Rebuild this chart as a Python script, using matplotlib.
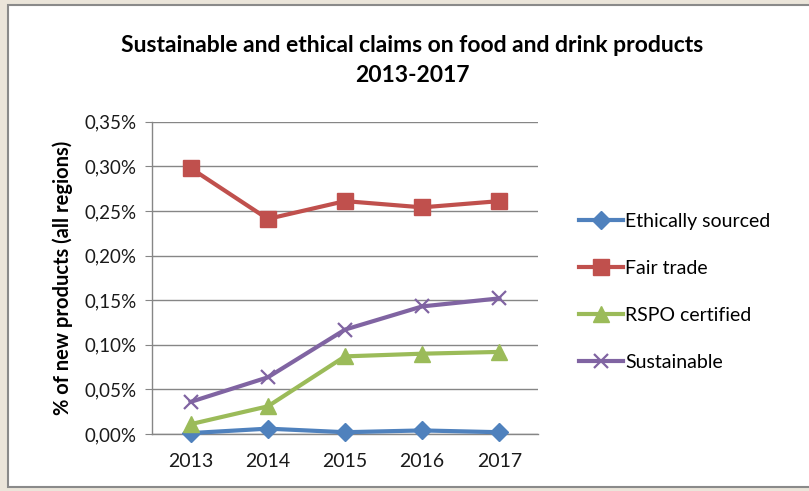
import numpy as np
import matplotlib
matplotlib.use("Agg")
import matplotlib.pyplot as plt
from matplotlib.patches import Rectangle
from matplotlib.ticker import FuncFormatter, MultipleLocator

# Data (percent of new products)
years = ["2013", "2014", "2015", "2016", "2017"]
ethically_sourced = [0.001, 0.006, 0.002, 0.004, 0.002]
fair_trade = [0.298, 0.241, 0.261, 0.254, 0.261]
rspo_certified = [0.011, 0.031, 0.087, 0.090, 0.092]
sustainable = [0.036, 0.0635, 0.117, 0.143, 0.152]
series_names = ["Ethically sourced", "Fair trade", "RSPO certified", "Sustainable"]

plt.rcParams["font.family"] = ["Lato", "DejaVu Sans"]

fig = plt.figure(figsize=(8.09, 4.91), dpi=100)
fig.patch.set_facecolor("#ebe5da")
# chart area frame
fig.patches.append(
    Rectangle((8 / 809, 4 / 491), 1.0, 482 / 491, transform=fig.transFigure,
              facecolor="white", edgecolor="#8a8a8a", linewidth=1.5, zorder=-5)
)

ax = fig.add_axes([152 / 809, 57 / 491, 386 / 809, 312.3 / 491])
ax.set_facecolor("white")
x = np.arange(len(years))

styles = [
    dict(color="#4F81BD", marker="D", markersize=9),
    dict(color="#C0504D", marker="s", markersize=11),
    dict(color="#9BBB59", marker="^", markersize=11),
    dict(color="#8064A2", marker="x", markersize=10, markeredgewidth=1.6),
]
for vals, name, st in zip([ethically_sourced, fair_trade, rspo_certified, sustainable],
                          series_names, styles):
    ax.plot(x, vals, linewidth=3.0, label=name, clip_on=False, zorder=3, **st)

ax.set_xlim(-0.5, 4.5)
ax.set_ylim(0, 0.35)
ax.yaxis.set_major_locator(MultipleLocator(0.05))
ax.yaxis.set_major_formatter(FuncFormatter(lambda v, p: "{:.2f}%".format(v).replace(".", ",")))
ax.set_xticks(x)
ax.set_xticklabels(years)
ax.grid(axis="y", color="#868686", linewidth=1.0)
ax.set_axisbelow(True)
for s in ["top", "right"]:
    ax.spines[s].set_visible(False)
for s in ["left", "bottom"]:
    ax.spines[s].set_color("#868686")
    ax.spines[s].set_linewidth(1.0)
ax.tick_params(axis="y", length=5, color="#868686", labelsize=13.5, pad=6, labelcolor="#1a1a1a")
ax.tick_params(axis="x", length=0, labelsize=14, pad=14, labelcolor="#1a1a1a")

ax.set_ylabel("% of new products (all regions)", fontsize=14.5, fontweight="bold", labelpad=8)

fig.text(412 / 809, 1 - 45 / 491, "Sustainable and ethical claims on food and drink products",
         ha="center", va="center", fontsize=16.5, fontweight="bold")
fig.text(412 / 809, 1 - 75 / 491, "2013-2017", ha="center", va="center",
         fontsize=16.5, fontweight="bold")

fig.legend(loc="center left", bbox_to_anchor=(561 / 809, 1 - 292 / 491), frameon=False,
           fontsize=14, handlelength=2.3, handletextpad=0.1, labelspacing=1.55)

fig.savefig("out.png", dpi=100, facecolor=fig.get_facecolor())
